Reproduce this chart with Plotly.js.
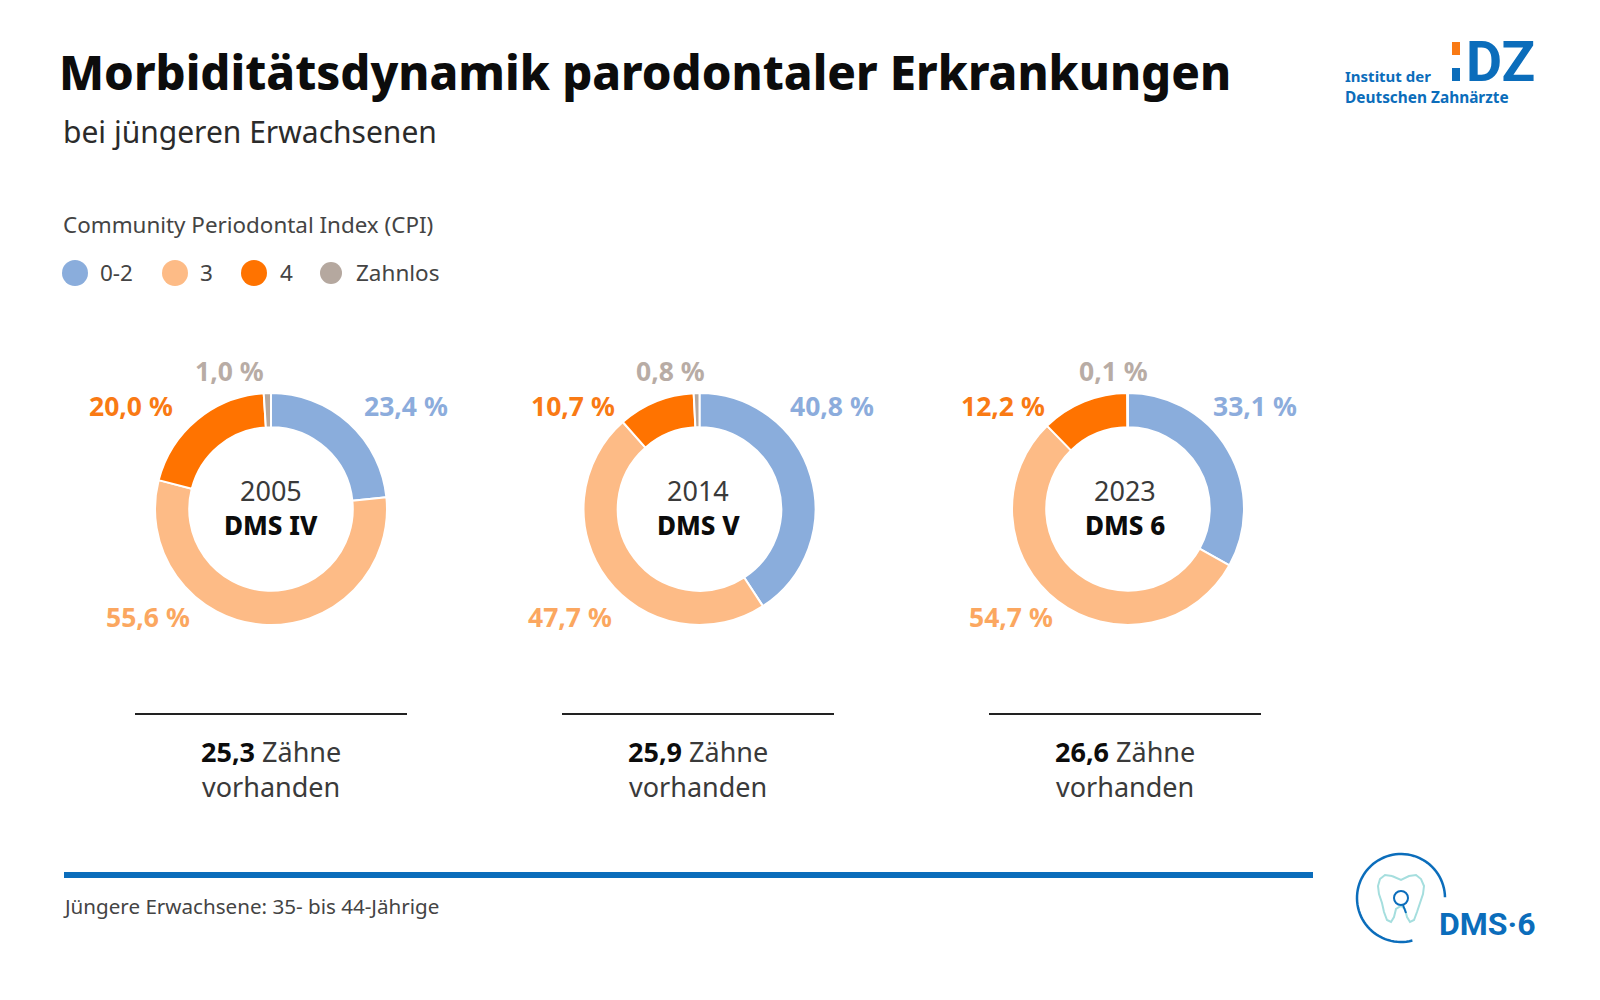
<!DOCTYPE html>
<html>
<head>
<meta charset="utf-8">
<script src="https://cdn.plot.ly/plotly-3.0.1.min.js"></script>
<style>html,body{margin:0;padding:0;background:#fff}</style>
</head>
<body>
<div id="chart" style="width:1600px;height:1000px"></div>
<script>
// data
var categories = ["0-2", "3", "4", "Zahnlos"];
var years = ["2005", "2014", "2023"];
var studies = ["DMS IV", "DMS V", "DMS 6"];
var values2005 = [23.4, 55.6, 20.0, 1.0];
var values2014 = [40.8, 47.7, 10.7, 0.8];
var values2023 = [33.1, 54.7, 12.2, 0.1];
var teeth = ["25,3", "25,9", "26,6"];

var sliceColors = ["#8aaddc", "#fdbb86", "#ff7300", "#b5a89f"];
var labelColors = ["#8cacdc", "#fba760", "#f97a14", "#b8aca5"];

var W = 1600, H = 1000;
var FONT = "'Noto Sans', sans-serif";
var BLUE = "#0b6dbb";
function px(x) { return x / W; }
function py(y) { return 1 - y / H; }

var allValues = [values2005, values2014, values2023];
var donutX = [271, 699.5, 1128];
var textX = [271, 698, 1125];
var donutY = 509;
var radius = 116;

// label centres in pixels, one row per donut, same order as categories
var labelPos = [
  [[406, 406], [148, 617], [131, 406], [229, 371]],
  [[832.5, 406], [570, 617], [573, 406], [670, 371]],
  [[1255, 406], [1010.5, 617], [1002.5, 406], [1113, 371]]
];

var annotations = [];
var shapes = [];

function addText(text, x, y, size, color, anchor, family, weight) {
  annotations.push({
    text: text, x: px(x), y: py(y), xref: "paper", yref: "paper",
    xanchor: anchor || "left", yanchor: "middle", showarrow: false,
    align: anchor || "left",
    font: { family: family || FONT, size: size, color: color, weight: weight || 400 }
  });
}

var traces = allValues.map(function (vals, i) {
  return {
    type: "pie",
    labels: categories,
    values: vals,
    sort: false,
    direction: "clockwise",
    rotation: 0,
    hole: 0.705,
    textinfo: "none",
    hoverinfo: "label+percent",
    showlegend: false,
    marker: { colors: sliceColors, line: { color: "#ffffff", width: 2 } },
    domain: {
      x: [px(donutX[i] - radius), px(donutX[i] + radius)],
      y: [py(donutY + radius), py(donutY - radius)]
    }
  };
});

// headline
addText("Morbiditätsdynamik parodontaler Erkrankungen", 57, 72, 47.3, "#0c0c0c", "left", FONT, 800);
addText("bei jüngeren Erwachsenen", 61, 131, 30, "#2b2b2b");

// legend
var legendDotX = [75, 175, 254, 331];
var legendDotR = [13, 13, 13, 11];
var legendTextX = [98, 198, 278, 354];
addText("Community Periodontal Index (CPI)", 61, 225, 22.4, "#444444");
categories.forEach(function (c, i) {
  shapes.push({
    type: "circle", xref: "paper", yref: "paper",
    x0: px(legendDotX[i] - legendDotR[i]), x1: px(legendDotX[i] + legendDotR[i]),
    y0: py(273 + legendDotR[i]), y1: py(273 - legendDotR[i]),
    fillcolor: sliceColors[i], line: { width: 0 }
  });
  addText(c, legendTextX[i], 272, 22.5, "#444444");
});

// donut labels, centre text, teeth block
allValues.forEach(function (vals, i) {
  vals.forEach(function (v, j) {
    addText(v.toFixed(1).replace(".", ",") + " %", labelPos[i][j][0], labelPos[i][j][1], 26.5, labelColors[j], "center", FONT, 700);
  });
  addText(years[i], textX[i], 490, 27, "#3a3a3a", "center");
  addText(studies[i], textX[i], 525, 26, "#0c0c0c", "center", FONT, 800);
  shapes.push({
    type: "line", xref: "paper", yref: "paper",
    x0: px(textX[i] - 136), x1: px(textX[i] + 136), y0: py(714), y1: py(714),
    line: { color: "#222222", width: 2 }
  });
  addText("<b style='color:#0c0c0c'>" + teeth[i] + "</b> Zähne", textX[i], 751, 27, "#3a3a3a", "center");
  addText("vorhanden", textX[i], 786, 27, "#3a3a3a", "center");
});

// footer
shapes.push({
  type: "line", xref: "paper", yref: "paper",
  x0: px(64), x1: px(1313), y0: py(875), y1: py(875),
  line: { color: BLUE, width: 6 }
});
addText("Jüngere Erwachsene: 35- bis 44-Jährige", 61, 906, 20.6, "#444444");

// IDZ logo
function rect(x0, y0, x1, y1, color) {
  shapes.push({ type: "rect", xref: "paper", yref: "paper", x0: px(x0), x1: px(x1), y0: py(y1), y1: py(y0), fillcolor: color, line: { width: 0 } });
}
rect(1452, 42, 1460, 55, "#f97a14");
rect(1452, 68, 1460, 81, BLUE);
addText("<b>DZ</b>", 1464, 63, 55.5, BLUE, "left", "Roboto");
addText("<b>Institut der</b>", 1343, 76, 15, BLUE);
addText("<b>Deutschen Zahnärzte</b>", 1343, 98, 15.4, BLUE);

// DMS 6 logo
function pathOf(points) {
  return points.map(function (p, i) {
    return (i ? "L" : "M") + px(p[0]).toFixed(5) + "," + py(p[1]).toFixed(5);
  }).join(" ");
}
function arc(cx, cy, r, a0, a1) {
  var pts = [];
  for (var a = a0; a <= a1; a += 4) {
    pts.push([cx + r * Math.cos(a * Math.PI / 180), cy + r * Math.sin(a * Math.PI / 180)]);
  }
  return pts;
}
shapes.push({ type: "path", xref: "paper", yref: "paper", path: pathOf(arc(1401, 898, 44, 75, 360)), line: { color: BLUE, width: 2.5 } });
var toothPts = [
  [1392, 876], [1385, 875], [1380, 879], [1378, 886], [1379, 894], [1382, 903], [1384, 912], [1387, 920],
  [1391, 922], [1394, 917], [1396, 909], [1401, 906], [1405, 909], [1407, 917], [1410, 922], [1414, 920],
  [1417, 912], [1420, 903], [1423, 894], [1424, 886], [1421, 879], [1416, 875], [1409, 876], [1401, 880], [1392, 876]
];
shapes.push({ type: "path", xref: "paper", yref: "paper", path: pathOf(toothPts), line: { color: "#a5dede", width: 2 } });
shapes.push({ type: "circle", xref: "paper", yref: "paper", x0: px(1394), x1: px(1408), y0: py(905), y1: py(891), line: { color: BLUE, width: 2 }, fillcolor: "#ffffff" });
shapes.push({ type: "line", xref: "paper", yref: "paper", x0: px(1403), x1: px(1406), y0: py(905), y1: py(913), line: { color: BLUE, width: 2 } });
addText("<b>DMS·6</b>", 1437, 924, 32, BLUE, "left", "Roboto");

Plotly.newPlot("chart", traces, {
  width: W,
  height: H,
  margin: { t: 0, r: 0, b: 0, l: 0 },
  paper_bgcolor: "#ffffff",
  showlegend: false,
  annotations: annotations,
  shapes: shapes
}, { displayModeBar: false, responsive: false });
</script>
</body>
</html>
